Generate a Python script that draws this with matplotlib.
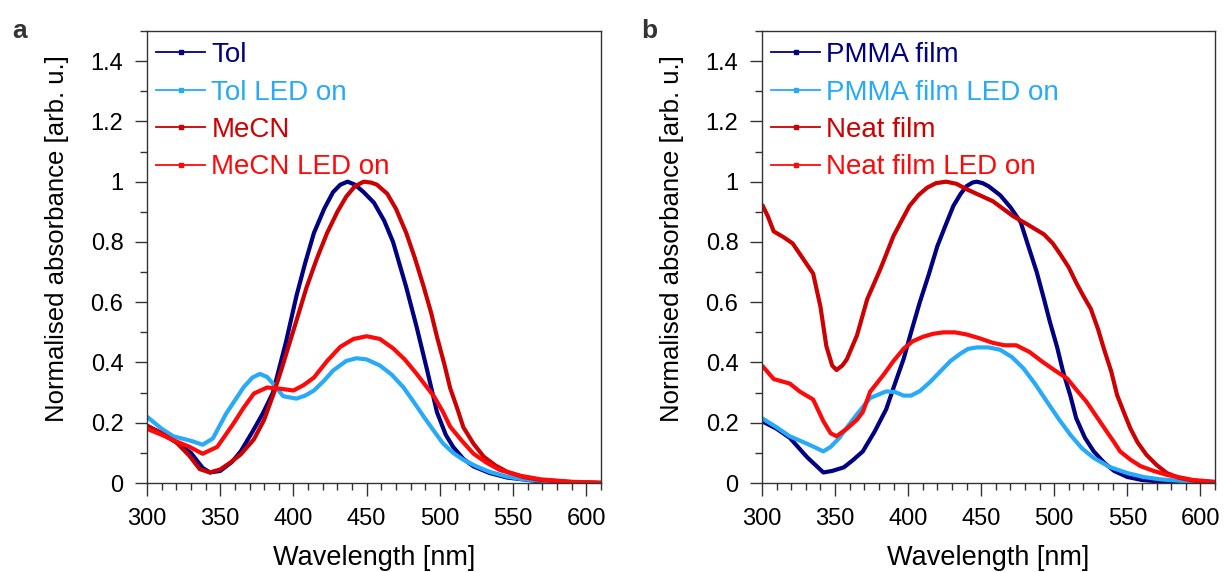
import numpy as np
import matplotlib
matplotlib.use('Agg')
import matplotlib.pyplot as plt
from matplotlib.ticker import MultipleLocator

plt.rcParams['font.family'] = ['Liberation Sans', 'DejaVu Sans']

# ---- panel a: solutions ----
tol_x = [300, 310, 320, 330, 338, 343, 350, 358, 364, 372, 379, 386, 395, 402, 408, 414, 421, 427,
         432, 437, 442, 448, 455, 462, 468, 477, 484, 491, 498, 504, 509, 516, 523, 534, 546, 569,
         590, 610]
tol_y = [0.19, 0.165, 0.135, 0.10, 0.05, 0.035, 0.04, 0.07, 0.105, 0.17, 0.23, 0.30, 0.47, 0.62,
         0.73, 0.83, 0.91, 0.965, 0.99, 1.0, 0.99, 0.965, 0.93, 0.87, 0.80, 0.65, 0.52, 0.38,
         0.235, 0.16, 0.12, 0.08, 0.055, 0.033, 0.018, 0.005, 0.001, 0.0]

tol_led_x = [300, 310, 318, 330, 338, 345, 354, 366, 372, 377, 382, 386, 393, 402, 408, 414, 421,
             427, 436, 443, 450, 459, 467, 475, 482, 489, 496, 502, 509, 516, 525, 534, 545, 557,
             580, 610]
tol_led_y = [0.22, 0.18, 0.155, 0.14, 0.127, 0.148, 0.23, 0.318, 0.35, 0.362, 0.352, 0.33, 0.288,
             0.28, 0.29, 0.307, 0.34, 0.373, 0.405, 0.414, 0.41, 0.39, 0.36, 0.318, 0.27, 0.22,
             0.172, 0.132, 0.1, 0.077, 0.055, 0.037, 0.022, 0.012, 0.004, 0.0]

mecn_x = [300, 310, 320, 329, 336, 343, 350, 357, 364, 373, 380, 386, 392, 398, 404, 409, 416,
          423, 430, 436, 442, 448, 453, 457, 464, 470, 477, 483, 489, 494, 498, 503, 507, 512, 516,
          523, 530, 538, 546, 557, 569, 590, 610]
mecn_y = [0.19, 0.165, 0.135, 0.09, 0.046, 0.035, 0.045, 0.068, 0.095, 0.145, 0.21, 0.29, 0.38,
          0.475, 0.57, 0.65, 0.745, 0.83, 0.9, 0.95, 0.985, 1.0, 0.997, 0.99, 0.96, 0.91, 0.83,
          0.745, 0.65, 0.565, 0.485, 0.395, 0.315, 0.245, 0.185, 0.13, 0.087, 0.058, 0.037, 0.02,
          0.01, 0.003, 0.0]

mecn_led_x = [300, 310, 318, 329, 338, 348, 359, 366, 373, 382, 391, 400, 407, 414, 423, 432, 441,
              450, 459, 468, 476, 484, 490, 496, 502, 507, 515, 523, 532, 541, 555, 569, 590, 610]
mecn_led_y = [0.18, 0.16, 0.142, 0.12, 0.097, 0.12, 0.197, 0.25, 0.297, 0.317, 0.313, 0.307, 0.325,
              0.35, 0.405, 0.452, 0.478, 0.487, 0.478, 0.447, 0.41, 0.363, 0.325, 0.287, 0.237,
              0.187, 0.14, 0.097, 0.067, 0.043, 0.024, 0.012, 0.004, 0.001]

# ---- panel b: films ----
pmma_x = [300, 310, 319, 331, 342, 348, 356, 362, 369, 377, 385, 391, 397, 402, 408, 414, 420,
          426, 431, 436, 440, 444, 447, 451, 455, 463, 470, 477, 482, 488, 493, 497, 502, 506, 511,
          515, 521, 527, 534, 541, 550, 560, 580, 610]
pmma_y = [0.205, 0.18, 0.15, 0.085, 0.035, 0.04, 0.052, 0.075, 0.105, 0.17, 0.245, 0.33, 0.413,
          0.50, 0.60, 0.69, 0.786, 0.86, 0.92, 0.96, 0.985, 0.997, 1.0, 0.995, 0.985, 0.955, 0.915,
          0.866, 0.79, 0.70, 0.61, 0.535, 0.45, 0.37, 0.29, 0.215, 0.15, 0.105, 0.068, 0.04, 0.02,
          0.01, 0.002, 0.0]

pmma_led_x = [300, 310, 319, 331, 342, 347, 353, 359, 365, 374, 385, 391, 397, 402, 408, 415, 422,
              429, 436, 441, 447, 455, 463, 471, 479, 487, 495, 503, 511, 519, 527, 538, 550, 561,
              573, 595, 610]
pmma_led_y = [0.215, 0.185, 0.155, 0.13, 0.105, 0.12, 0.15, 0.19, 0.228, 0.282, 0.304, 0.302,
              0.29, 0.29, 0.305, 0.335, 0.37, 0.405, 0.43, 0.445, 0.45, 0.45, 0.442, 0.418, 0.38,
              0.328, 0.27, 0.213, 0.16, 0.115, 0.083, 0.053, 0.033, 0.02, 0.012, 0.004, 0.001]

neat_x = [300, 304, 308, 315, 321, 328, 335, 340, 344, 348, 351, 355, 358, 365, 372, 381, 390,
          396, 401, 407, 413, 419, 426, 433, 440, 449, 458, 465, 472, 481, 493, 499, 504, 510, 515,
          520, 525, 530, 534, 539, 543, 548, 552, 557, 563, 570, 577, 585, 595, 610]
neat_y = [0.925, 0.885, 0.835, 0.815, 0.795, 0.745, 0.695, 0.585, 0.455, 0.39, 0.375, 0.39, 0.41,
          0.49, 0.61, 0.71, 0.82, 0.875, 0.92, 0.955, 0.98, 0.995, 1.0, 0.993, 0.975, 0.955, 0.935,
          0.91, 0.885, 0.86, 0.825, 0.795, 0.76, 0.715, 0.665, 0.62, 0.578, 0.51, 0.445, 0.37,
          0.292, 0.23, 0.182, 0.135, 0.094, 0.06, 0.033, 0.018, 0.008, 0.002]

neat_led_x = [300, 308, 319, 326, 335, 342, 347, 351, 358, 365, 369, 374, 383, 390, 397, 403, 410,
              417, 424, 432, 440, 449, 458, 466, 474, 483, 492, 500, 509, 515, 522, 529, 536, 541,
              545, 552, 559, 568, 577, 595, 610]
neat_led_y = [0.39, 0.345, 0.33, 0.303, 0.277, 0.205, 0.165, 0.155, 0.18, 0.21, 0.236, 0.303,
              0.358, 0.405, 0.446, 0.47, 0.485, 0.495, 0.5, 0.5, 0.493, 0.48, 0.465, 0.457, 0.457,
              0.435, 0.402, 0.375, 0.346, 0.31, 0.27, 0.22, 0.17, 0.135, 0.105, 0.078, 0.056,
              0.04, 0.027, 0.01, 0.004]

C_NAVY = '#000080'
C_SKY = '#29AAF8'
C_DRED = '#CC0000'
C_RED = '#FF0A0A'

panels = [
    ('a', [(tol_x, tol_y, C_NAVY, 'Tol'),
           (tol_led_x, tol_led_y, C_SKY, 'Tol LED on'),
           (mecn_x, mecn_y, C_DRED, 'MeCN'),
           (mecn_led_x, mecn_led_y, C_RED, 'MeCN LED on')]),
    ('b', [(pmma_x, pmma_y, C_NAVY, 'PMMA film'),
           (pmma_led_x, pmma_led_y, C_SKY, 'PMMA film LED on'),
           (neat_x, neat_y, C_DRED, 'Neat film'),
           (neat_led_x, neat_led_y, C_RED, 'Neat film LED on')]),
]

fig = plt.figure(figsize=(12.24, 5.72), dpi=100)
ax_rects = [[147 / 1224, 1 - 483 / 572, 454 / 1224, 452 / 572],
            [762 / 1224, 1 - 483 / 572, 453 / 1224, 452 / 572]]
label_x = [12 / 1224, 641 / 1224]

for (tag, series), rect, lx in zip(panels, ax_rects, label_x):
    ax = fig.add_axes(rect)
    for xs, ys, col, name in series:
        ax.plot(xs, ys, color=col, lw=3.0, solid_joinstyle='round', solid_capstyle='butt')
    ax.set_xlim(300, 610)
    ax.set_ylim(0, 1.5)
    ax.xaxis.set_major_locator(MultipleLocator(50))
    ax.xaxis.set_minor_locator(MultipleLocator(10))
    ax.yaxis.set_minor_locator(MultipleLocator(0.1))
    ax.set_yticks([0, 0.2, 0.4, 0.6, 0.8, 1.0, 1.2, 1.4])
    ax.set_yticklabels(['0', '0.2', '0.4', '0.6', '0.8', '1', '1.2', '1.4'])
    ax.tick_params(axis='both', which='both', direction='out', top=False, right=False,
                   labelsize=17, width=1.0, color='#333333')
    ax.tick_params(which='major', length=9)
    ax.tick_params(which='minor', length=5)
    ax.tick_params(axis='x', which='major', pad=9)
    ax.tick_params(axis='y', which='major', pad=8)
    for sp in ax.spines.values():
        sp.set_linewidth(1.0)
        sp.set_color('#333333')
    ax.set_xlabel('Wavelength [nm]', fontsize=19.5, labelpad=11)
    ax.set_ylabel('Normalised absorbance [arb. u.]', fontsize=18.5)
    ax.yaxis.set_label_coords(-0.172, 0.54)

    # legend handles: thin line with a small square in the middle
    handles = []
    for xs, ys, col, name in series:
        h, = ax.plot([], [], color=col, lw=1.3, marker='s', markersize=3.5, label=name)
        handles.append(h)
    leg = ax.legend(handles=handles, loc='upper left', frameon=False, fontsize=20,
                    handlelength=1.78, handletextpad=0.22, labelspacing=0.41,
                    borderaxespad=0.0, borderpad=0.4, bbox_to_anchor=(-0.005, 1.0))
    for txt, (xs, ys, col, name) in zip(leg.get_texts(), series):
        txt.set_color(col)

    fig.text(lx, 1 - 38 / 572, tag, fontsize=19, fontweight='bold', color='#333333',
             ha='left', va='baseline')

fig.savefig('out.png', dpi=100, facecolor='white')
